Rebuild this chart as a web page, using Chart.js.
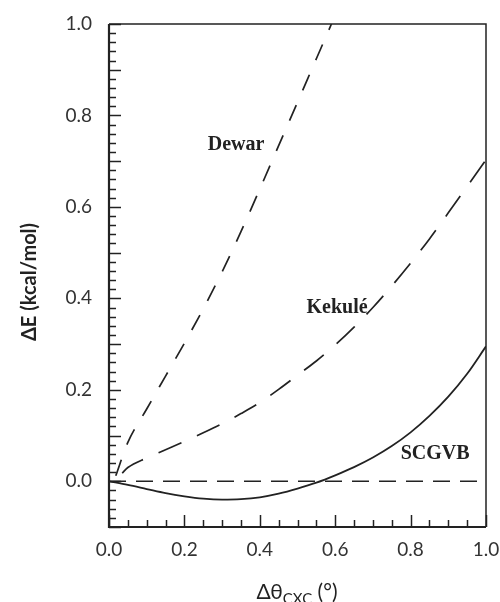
<!DOCTYPE html>
<html>
<head>
<meta charset="utf-8">
<script src="https://cdn.jsdelivr.net/npm/chart.js@4.4.1/dist/chart.umd.min.js"></script>
<style>
  html, body { margin: 0; padding: 0; background: #fff; }
  canvas { display: block; }
</style>
</head>
<body>
<canvas id="strainChart" width="500" height="602"></canvas>
<script>
// values
const dewarX = [0.018, 0.05, 0.1, 0.15, 0.2, 0.25, 0.3, 0.35, 0.4, 0.45, 0.5, 0.55, 0.59];
const dewarY = [0.012, 0.085, 0.158, 0.23, 0.302, 0.377, 0.458, 0.546, 0.639, 0.734, 0.829, 0.924, 1.0];

const kekuleX = [0.035, 0.05, 0.1, 0.15, 0.2, 0.25, 0.3, 0.35, 0.4, 0.45, 0.5, 0.55, 0.6, 0.65, 0.7, 0.75, 0.8, 0.85, 0.9, 0.95, 1.0];
const kekuleY = [0.018, 0.03, 0.051, 0.069, 0.087, 0.106, 0.126, 0.148, 0.172, 0.201, 0.232, 0.263, 0.298, 0.337, 0.38, 0.427, 0.477, 0.53, 0.587, 0.645, 0.703];

const scgvbX = [0, 0.05, 0.1, 0.15, 0.2, 0.25, 0.3, 0.35, 0.4, 0.45, 0.5, 0.55, 0.6, 0.65, 0.7, 0.75, 0.8, 0.85, 0.9, 0.95, 1.0];
const scgvbY = [0, -0.008, -0.017, -0.026, -0.033, -0.038, -0.04, -0.039, -0.035, -0.027, -0.016, -0.003, 0.013, 0.031, 0.052, 0.077, 0.107, 0.143, 0.185, 0.235, 0.295];

const zeroX = [0, 1];
const zeroY = [0, 0];

const xTickValues = [0, 0.2, 0.4, 0.6, 0.8, 1.0];
const yTickValues = [0, 0.2, 0.4, 0.6, 0.8, 1.0];

const curveLabels = [
  { text: "Dewar", x: 0.337, y: 0.724 },
  { text: "Kekulé", x: 0.605, y: 0.368 },
  { text: "SCGVB", x: 0.865, y: 0.048 },
];

const ink = "#222";

function pts(xs, ys) {
  return xs.map((x, i) => ({ x: x, y: ys[i] }));
}

// frame, inward ticks, curve names and axis titles
const decorations = {
  id: "decorations",
  afterDatasetsDraw(chart) {
    const { ctx, chartArea: a, scales } = chart;
    const xs = scales.x, ys = scales.y;
    ctx.save();
    ctx.strokeStyle = ink;

    // minor / major ticks, pointing into the plot
    ctx.lineWidth = 1.5;
    for (let i = 0; i <= 20; i++) {
      const px = Math.round(xs.getPixelForValue(i * 0.05)) + 0.5;
      const len = i % 4 === 0 ? 12 : 7;
      ctx.beginPath();
      ctx.moveTo(px, a.bottom);
      ctx.lineTo(px, a.bottom - len);
      ctx.stroke();
    }
    for (let i = -5; i <= 50; i++) {
      const py = Math.round(ys.getPixelForValue(i * 0.02)) + 0.5;
      const len = i % 5 === 0 ? 12 : 7;
      ctx.beginPath();
      ctx.moveTo(a.left, py);
      ctx.lineTo(a.left + len, py);
      ctx.stroke();
    }

    // frame
    ctx.lineWidth = 1.5;
    ctx.beginPath();
    ctx.moveTo(a.left, a.top);
    ctx.lineTo(a.right, a.top);
    ctx.lineTo(a.right, a.bottom);
    ctx.stroke();
    ctx.lineWidth = 2.2;
    ctx.beginPath();
    ctx.moveTo(a.left, a.top);
    ctx.lineTo(a.left, a.bottom);
    ctx.lineTo(a.right, a.bottom);
    ctx.stroke();

    // curve names
    ctx.fillStyle = ink;
    ctx.font = "bold 20px 'Liberation Serif'";
    ctx.textAlign = "center";
    ctx.textBaseline = "alphabetic";
    curveLabels.forEach(l => {
      ctx.fillText(l.text, xs.getPixelForValue(l.x), ys.getPixelForValue(l.y));
    });

    // y title
    ctx.save();
    ctx.translate(30, 282);
    ctx.rotate(-Math.PI / 2);
    ctx.font = "bold 20px Lato";
    ctx.textBaseline = "middle";
    ctx.fillText("ΔE (kcal/mol)", 0, 0);
    ctx.restore();

    // x title with subscript
    const big = "21px Lato", small = "15px Lato";
    ctx.textAlign = "left";
    ctx.font = big;
    const w1 = ctx.measureText("Δθ").width;
    const w3 = ctx.measureText(" (°)").width;
    ctx.font = small;
    const w2 = ctx.measureText("CXC").width;
    const x0 = 297 - (w1 + w2 + w3) / 2;
    const base = 599;
    ctx.font = big;
    ctx.fillText("Δθ", x0, base);
    ctx.font = small;
    ctx.fillText("CXC", x0 + w1, base + 5);
    ctx.font = big;
    ctx.fillText(" (°)", x0 + w1 + w2, base);

    ctx.restore();
  }
};

new Chart(document.getElementById("strainChart"), {
  type: "line",
  data: {
    datasets: [
      { label: "Dewar", data: pts(dewarX, dewarY), borderDash: [17, 16], borderWidth: 1.7 },
      { label: "Kekulé", data: pts(kekuleX, kekuleY), borderDash: [25, 17], borderWidth: 1.7 },
      { label: "SCGVB", data: pts(scgvbX, scgvbY), borderWidth: 1.8 },
      { label: "zero", data: pts(zeroX, zeroY), borderDash: [17, 10], borderWidth: 1.7 },
    ].map(d => Object.assign({
      borderColor: ink,
      pointRadius: 0,
      fill: false,
      cubicInterpolationMode: "monotone",
    }, d)),
  },
  options: {
    responsive: false,
    animation: false,
    layout: { padding: { top: 24, right: 14, left: 0, bottom: 0 } },
    plugins: {
      legend: { display: false },
      tooltip: { enabled: false },
    },
    scales: {
      x: {
        type: "linear",
        min: 0,
        max: 1,
        grid: { display: false, drawTicks: false },
        border: { display: false },
        afterBuildTicks: s => { s.ticks = xTickValues.map(v => ({ value: v })); },
        afterFit: s => {
          s.height = 75;
          s.paddingLeft = s.paddingRight = s.paddingTop = s.paddingBottom = 0;
        },
        ticks: {
          padding: 11,
          color: "#333",
          font: { family: "Lato", size: 19 },
          maxRotation: 0,
          callback: v => v.toFixed(1),
        },
      },
      y: {
        type: "linear",
        min: -0.1,
        max: 1.0,
        grid: { display: false, drawTicks: false },
        border: { display: false },
        afterBuildTicks: s => { s.ticks = yTickValues.map(v => ({ value: v })); },
        afterFit: s => {
          s.width = 109;
          s.paddingLeft = s.paddingRight = s.paddingTop = s.paddingBottom = 0;
        },
        ticks: {
          padding: 17,
          color: "#333",
          font: { family: "Lato", size: 19 },
          callback: v => v.toFixed(1),
        },
      },
    },
  },
  plugins: [decorations],
});
</script>
</body>
</html>
